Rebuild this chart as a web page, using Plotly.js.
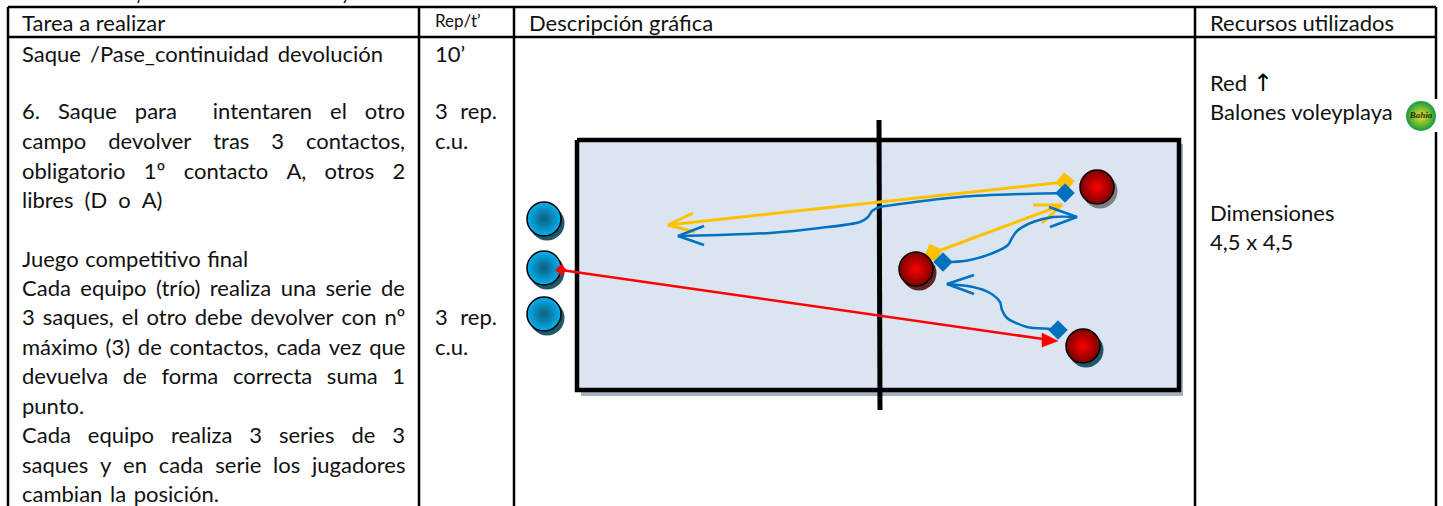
<!DOCTYPE html>
<html><head><meta charset="utf-8">
<script src="https://cdn.plot.ly/plotly-3.0.1.min.js"></script>
<style>html,body{margin:0;padding:0;background:#fff}#c{width:1443px;height:506px}</style>
</head><body><div id="c"></div>
<script>
const FONT='Lato', SIZE=22, INK='#111111';
const borderSegs=[[[8,1436],[7,7]],[[8,1436],[37,37]],[[8,8],[7,506]],[[419,419],[7,506]],[[514,514],[7,506]],[[1195,1195],[7,506]],[[1436,1436],[7,506]]];
const cropMarks=[[[139,138],[0,3]],[[346,344],[0,3]]];
const courtX=[577,1179,1179,577,577], courtY=[140,140,390,390,140];
const shadowX=[581,1183,1183,581,581], shadowY=[144,144,396,396,144];
const netX=[879,880], netY=[120,410];
const yellowLongX=[1065,668], yellowLongY=[182,225];
const yellowLongHeadX=[693,668,695], yellowLongHeadY=[213,225,232];
const yellowShortX=[933,1062], yellowShortY=[253,205];
const yellowShortHeadX=[1033,1062,1042], yellowShortHeadY=[205,205,223];
const blueLongX=[1065,1020,960,900,880,872,868,860,820,770,720,678];
const blueLongY=[193,194,197,204,207,211,217,222,228,233,235,236];
const blueLongHeadX=[704,678,704], blueLongHeadY=[226,236,245];
const blueMidX=[943,952,970,993,1008,1012,1017,1033,1053,1077];
const blueMidY=[262,262,260,253,245,238,231,222,217,217];
const blueMidHeadX=[1049,1077,1050], blueMidHeadY=[207,217,227];
const blueLowX=[1058,1050,1027,1007,1002,1000,990,973,947];
const blueLowY=[330,329,327,318,310,302,293,287,284];
const blueLowHeadX=[974,947,974], blueLowHeadY=[275,284,294];
const redX=[561,1050], redY=[270,340];
const redHeadX=[1042,1058,1042,1042], redHeadY=[333,341,347,333];
const diamondsYellowX=[1065,933], diamondsYellowY=[182,253], diamondsYellowAngle=[-6,-20];
const diamondsBlueX=[1065,943,1058], diamondsBlueY=[193,262,330];
const blueBallX=[544,544,544], blueBallY=[219,268,314];
const redBallX=[1097,916,1083], redBallY=[187,269,346];
const shadowColours=['#7f7f7f','#632523','#215868'];
const leftLines=[
 ['Saque /Pase_continuidad devolución',56,383],
 ['6. Saque para  intentaren el otro',113,405],
 ['campo devolver tras 3 contactos,',143,405],
 ['obligatorio 1º contacto A, otros 2',173,405],
 ['libres (D o A)',202,162],
 ['Juego competitivo final',261,248],
 ['Cada equipo (trío) realiza una serie de',290,405],
 ['3 saques, el otro debe devolver con nº',319,405],
 ['máximo (3) de contactos, cada vez que',349,405],
 ['devuelva de forma correcta suma 1',378,405],
 ['punto.',408,0],
 ['Cada equipo realiza 3 series de 3',437,405],
 ['saques y en cada serie los jugadores',467,405],
 ['cambian la posición.',496,219]];
const repLines=[['10’',56,0],['3 rep.',113,497],['c.u.',143,0],['3  rep.',319,497],['c.u.',349,0]];
const headers=[['Tarea a realizar',22,25,SIZE],['Rep/t’',435,23,17],['Descripción gráfica',529,25,SIZE],['Recursos utilizados',1210,25,SIZE]];
const resources=[['Red',85],['Balones voleyplaya',114],['Dimensiones',215],['4,5 x 4,5',244]];

const ctx=document.createElement('canvas').getContext('2d');
function words(lines,left,size){
  ctx.font=size+'px '+FONT;
  const x=[],y=[],t=[];
  lines.forEach(([s,yy,right])=>{
    if(!right){x.push(left);y.push(yy);t.push(s);return;}
    const parts=s.split(' ');
    const w=ctx.measureText(parts.join('')).width;
    const gap=(right-left-w)/(parts.length-1);
    let cx=left;
    parts.forEach(p=>{ if(p){x.push(cx);y.push(yy);t.push(p);} cx+=ctx.measureText(p).width+gap; });
  });
  return {x,y,t};
}
const L=words(leftLines,22,SIZE), R=words(repLines,435,SIZE);
const line=(x,y,color,width,extra)=>Object.assign({type:'scatter',mode:'lines',x,y,line:{color,width},hoverinfo:'skip'},extra||{});
const txt=(x,y,t,size,extra)=>Object.assign({type:'scatter',mode:'text',x,y,text:t,textposition:'middle right',textfont:{family:FONT,size,color:INK},hoverinfo:'skip',cliponaxis:false},extra||{});
const spline={line:{color:'#0070c0',width:2.5,shape:'spline',smoothing:0.8}};
const Y='#ffc000',B='#0070c0',RD='#ff0000';
const traces=[];
borderSegs.forEach(s=>traces.push(line(s[0],s[1],'#000',2.5)));
cropMarks.forEach(s=>traces.push(line(s[0],s[1],'#222',1.5)));
// ball box that interrupts the right border
traces.push(line([1406,1441,1441,1406,1406],[99,99,132,132,99],'#fff',0,{fill:'toself',fillcolor:'#fff'}));
traces.push({type:'scatter',mode:'markers',x:[1421],y:[116],marker:{size:30,color:'#169a3e',gradient:{type:'radial',color:'#f2e32a'},line:{width:0}},hoverinfo:'skip'});
traces.push(txt([1421],[116],['Bahia'],9,{textposition:'middle center',textfont:{family:'Liberation Serif',size:9,color:'#26300f',style:'italic',weight:'bold'}}));
// court
traces.push(line(shadowX,shadowY,'#a5b2c2',0,{fill:'toself',fillcolor:'#a5b2c2'}));
traces.push(line(courtX,courtY,'#000',4.5,{fill:'toself',fillcolor:'#dbe5f1'}));
traces.push(line(netX,netY,'#000',5));
// yellow
traces.push(line(yellowLongX,yellowLongY,Y,3));
traces.push(line(yellowLongHeadX,yellowLongHeadY,Y,3));
traces.push(line(yellowShortX,yellowShortY,Y,3));
traces.push(line(yellowShortHeadX,yellowShortHeadY,Y,3));
traces.push({type:'scatter',mode:'markers',x:diamondsYellowX,y:diamondsYellowY,marker:{symbol:'diamond',size:15,color:Y,angle:diamondsYellowAngle},hoverinfo:'skip'});
// blue
[[blueLongX,blueLongY],[blueMidX,blueMidY],[blueLowX,blueLowY]].forEach(p=>traces.push(Object.assign(line(p[0],p[1],B,2.5),spline)));
[[blueLongHeadX,blueLongHeadY],[blueMidHeadX,blueMidHeadY],[blueLowHeadX,blueLowHeadY]].forEach(p=>traces.push(line(p[0],p[1],B,2.5)));
traces.push({type:'scatter',mode:'markers',x:diamondsBlueX,y:diamondsBlueY,marker:{symbol:'diamond',size:15,color:B},hoverinfo:'skip'});
// balls
const ball=(x,y,edge,center)=>({type:'scatter',mode:'markers',x,y,hoverinfo:'skip',marker:{size:34,color:edge,gradient:{type:'radial',color:center},line:{color:'#000',width:1.5}}});
traces.push({type:'scatter',mode:'markers',x:blueBallX.map(v=>v+3),y:blueBallY.map(v=>v+4),marker:{size:35,color:'#215868'},hoverinfo:'skip'});
traces.push({type:'scatter',mode:'markers',x:redBallX.map(v=>v+3),y:redBallY.map(v=>v+4),marker:{size:35,color:shadowColours},hoverinfo:'skip'});
traces.push(ball(blueBallX,blueBallY,'#00b0f0','#0f5f80'));
traces.push(ball(redBallX,redBallY,'#7a0000','#ff0000'));
// red
traces.push(line(redX,redY,RD,2.5));
traces.push(line(redHeadX,redHeadY,RD,0.5,{fill:'toself',fillcolor:RD}));
traces.push({type:'scatter',mode:'markers',x:[561],y:[270],marker:{symbol:'diamond',size:9,color:RD},hoverinfo:'skip'});
// text
traces.push(txt(L.x,L.y,L.t,SIZE));
traces.push(txt(R.x,R.y,R.t,SIZE));
headers.forEach(h=>traces.push(txt([h[1]],[h[2]],[h[0]],h[3])));
traces.push(txt(resources.map(()=>1210),resources.map(r=>r[1]),resources.map(r=>r[0]),SIZE));
traces.push(txt([1263],[85],['↑'],24,{textposition:'middle center',textfont:{family:'DejaVu Sans',size:24,color:'#000'}}));

const layout={width:1443,height:506,margin:{l:0,r:0,t:0,b:0},showlegend:false,paper_bgcolor:'#fff',plot_bgcolor:'#fff',
 xaxis:{range:[0,1443],visible:false,fixedrange:true},yaxis:{range:[506,0],visible:false,fixedrange:true}};
Plotly.newPlot('c',traces,layout,{displayModeBar:false,staticPlot:true});
</script></body></html>
